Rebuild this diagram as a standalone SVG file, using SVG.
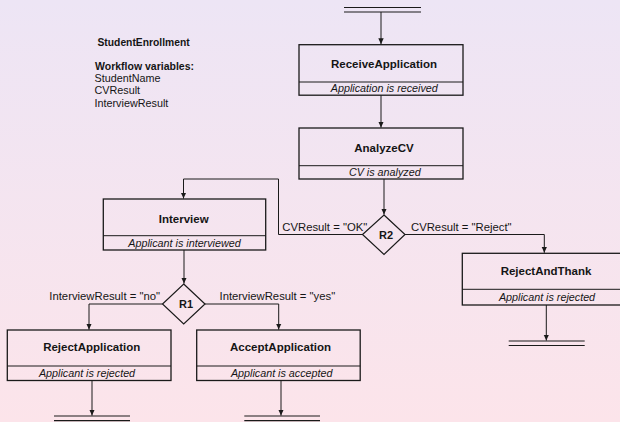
<svg xmlns="http://www.w3.org/2000/svg" width="620" height="422" viewBox="0 0 620 422">
<defs>
<linearGradient id="bg" x1="0" y1="0" x2="0" y2="1">
<stop offset="0" stop-color="#ede5f5"/>
<stop offset="1" stop-color="#fce4ea"/>
</linearGradient>
<marker id="arr" viewBox="0 0 6 6" refX="6" refY="3" markerWidth="6" markerHeight="6" markerUnits="userSpaceOnUse" orient="auto">
<path d="M0,0.3 L6,3 L0,5.7 z" fill="#1a1a1a"/>
</marker>
</defs>
<style>
text{font-family:"Liberation Sans",Arial,sans-serif;fill:#151515}
.title{font-size:11.5px;font-weight:bold;text-anchor:middle}
.sub{font-size:10.75px;font-style:italic;text-anchor:middle}
.lbl{font-size:11.3px}
.dia{font-size:11px;font-weight:bold;text-anchor:middle}
.box{fill:none;stroke:#1a1a1a;stroke-width:1.3}
.div{stroke:#1a1a1a;stroke-width:1}
.edge{fill:none;stroke:#1a1a1a;stroke-width:1}
.bar{stroke:#1a1a1a;stroke-width:1.2}
.diamond{fill:none;stroke:#1a1a1a;stroke-width:1.2}
.hdr{font-size:10.3px;font-weight:bold}
.var{font-size:10.8px}
</style>
<rect width="620" height="422" fill="url(#bg)"/>

<g id="info">
<text class="hdr" x="97.5" y="45.5">StudentEnrollment</text>
<text class="hdr" x="95" y="70" style="font-size:10.5px">Workflow variables:</text>
<text class="var" x="94.5" y="82">StudentName</text>
<text class="var" x="94.5" y="94">CVResult</text>
<text class="var" x="94.5" y="106.5">InterviewResult</text>
</g>

<g id="start">
<line class="bar" x1="344" y1="7.5" x2="421" y2="7.5"/>
<line class="bar" x1="344" y1="12" x2="421" y2="12"/>
</g>

<g id="ReceiveApplication">
<rect class="box" x="299" y="44.7" width="164" height="50.5"/>
<line class="div" x1="299" y1="82" x2="463" y2="82"/>
<text class="title" x="384" y="68">ReceiveApplication</text>
<text class="sub" x="384.3" y="92">Application is received</text>
</g>

<g id="AnalyzeCV">
<rect class="box" x="299" y="128" width="164" height="51"/>
<line class="div" x1="299" y1="165.7" x2="463" y2="165.7"/>
<text class="title" x="384" y="152">AnalyzeCV</text>
<text class="sub" x="384.8" y="176">CV is analyzed</text>
</g>

<g id="R2">
<polygon class="diamond" points="384,215 405,234.5 384,254.5 362.5,234.5"/>
<text class="dia" x="386" y="238.5">R2</text>
</g>

<g id="Interview">
<rect class="box" x="103.3" y="199" width="162.4" height="51"/>
<line class="div" x1="103.3" y1="235.7" x2="265.7" y2="235.7"/>
<text class="title" x="183.7" y="222.5">Interview</text>
<text class="sub" x="184.5" y="246.5">Applicant is interviewed</text>
</g>

<g id="RejectAndThank">
<rect class="box" x="462.3" y="253.3" width="164" height="51.7"/>
<line class="div" x1="462.3" y1="289.3" x2="626.3" y2="289.3"/>
<text class="title" x="546" y="275.3">RejectAndThank</text>
<text class="sub" x="547" y="301">Applicant is rejected</text>
</g>

<g id="R1">
<polygon class="diamond" points="183.7,284 205,304 183.7,324 162.5,304"/>
<text class="dia" x="186" y="307.5">R1</text>
</g>

<g id="RejectApplication">
<rect class="box" x="7.3" y="330" width="163.7" height="50.5"/>
<line class="div" x1="7.3" y1="366" x2="171" y2="366"/>
<text class="title" x="91.7" y="351">RejectApplication</text>
<text class="sub" x="87" y="376.8">Applicant is rejected</text>
</g>

<g id="AcceptApplication">
<rect class="box" x="196.7" y="330" width="163.5" height="50.5"/>
<line class="div" x1="196.7" y1="366" x2="360.2" y2="366"/>
<text class="title" x="280.5" y="351">AcceptApplication</text>
<text class="sub" x="281.7" y="376.8">Applicant is accepted</text>
</g>

<g id="end1">
<line class="bar" x1="54" y1="416" x2="130" y2="416"/>
<line class="bar" x1="54" y1="420.7" x2="130" y2="420.7"/>
</g>
<g id="end2">
<line class="bar" x1="244.3" y1="416" x2="320" y2="416"/>
<line class="bar" x1="244.3" y1="420.7" x2="320" y2="420.7"/>
</g>
<g id="end3">
<line class="bar" x1="508.7" y1="341" x2="584.7" y2="341"/>
<line class="bar" x1="508.7" y1="345.5" x2="584.7" y2="345.5"/>
</g>

<g id="connectors">
<path class="edge" d="M381,12 V44.2" marker-end="url(#arr)"/>
<path class="edge" d="M381,95.2 V127.6" marker-end="url(#arr)"/>
<path class="edge" d="M384,179 V214.6" marker-end="url(#arr)"/>
<path class="edge" d="M362.5,234.5 H278.5 V179 H183.5 V198.6" marker-end="url(#arr)"/>
<path class="edge" d="M405,234.5 H544.3 V252.8" marker-end="url(#arr)"/>
<path class="edge" d="M184,250 V283.6" marker-end="url(#arr)"/>
<path class="edge" d="M162.5,304 H89 V329.6" marker-end="url(#arr)"/>
<path class="edge" d="M205,304 H278.7 V329.6" marker-end="url(#arr)"/>
<path class="edge" d="M92,380.5 V415.6" marker-end="url(#arr)"/>
<path class="edge" d="M281,380.5 V415.6" marker-end="url(#arr)"/>
<path class="edge" d="M546.3,305 V340.6" marker-end="url(#arr)"/>
<text class="lbl" x="282.3" y="231">CVResult = "OK"</text>
<text class="lbl" x="411" y="231">CVResult = "Reject"</text>
<text class="lbl" x="49.3" y="300">InterviewResult = "no"</text>
<text class="lbl" x="219.5" y="300">InterviewResult = "yes"</text>
</g>
</svg>
